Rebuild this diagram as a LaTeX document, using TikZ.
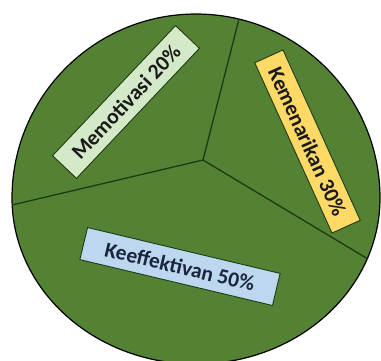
\documentclass[tikz,border=0pt]{standalone}
\usepackage{fontspec}
\setmainfont{Carlito}
\definecolor{piegreen}{HTML}{548235}
\definecolor{spoke}{HTML}{1E3A12}
\definecolor{lblgreen}{HTML}{D3E9C7}
\definecolor{lblyellow}{HTML}{FFD966}
\definecolor{lblblue}{HTML}{BDD7EE}
\definecolor{txtdark}{HTML}{1A1A1A}
\definecolor{txtnavy}{HTML}{1B2540}
\tikzset{
  lbl/.style={draw=spoke, line width=0.9pt, inner sep=0pt, minimum height=33pt,
    font=\fontsize{21.5}{24}\selectfont\bfseries, text=txtdark},
  spokeline/.style={draw=spoke, line width=1.3pt}
}
\begin{document}
\begin{tikzpicture}[x=1pt,y=-1pt]
\useasboundingbox (0,0) rectangle (381,360);
\clip (0,0) rectangle (381,360);
\fill[white] (0,0) rectangle (381,360);
\draw[fill=piegreen, line width=1.2pt, draw=black]
  (12,198) arc[start angle=180, end angle=0, radius=184pt]
  arc[start angle=0, end angle=-180, x radius=184pt, y radius=166pt] -- cycle;
\coordinate (c) at (203,160);
\coordinate (ptop) at (239,19);
\coordinate (pleft) at (12,205);
\coordinate (pright) at (368,259);
\draw[spokeline] (c) -- (ptop);
\draw[spokeline] (c) -- (pleft);
\draw[spokeline] (c) -- (pright);
\node[lbl, fill=lblgreen, minimum width=179pt, rotate=46.6] (memo) at (126,102) {Memotivasi 20\%};
\node[lbl, fill=lblyellow, minimum width=187pt, minimum height=31pt, rotate=-65.6] (keme) at (307.5,141.5) {Kemenarikan 30\%};
\node[lbl, fill=lblblue, minimum width=198pt, rotate=-13.4, text=txtnavy] (keef) at (180,266.5) {Keeffektivan 50\%};
\end{tikzpicture}
\end{document}
